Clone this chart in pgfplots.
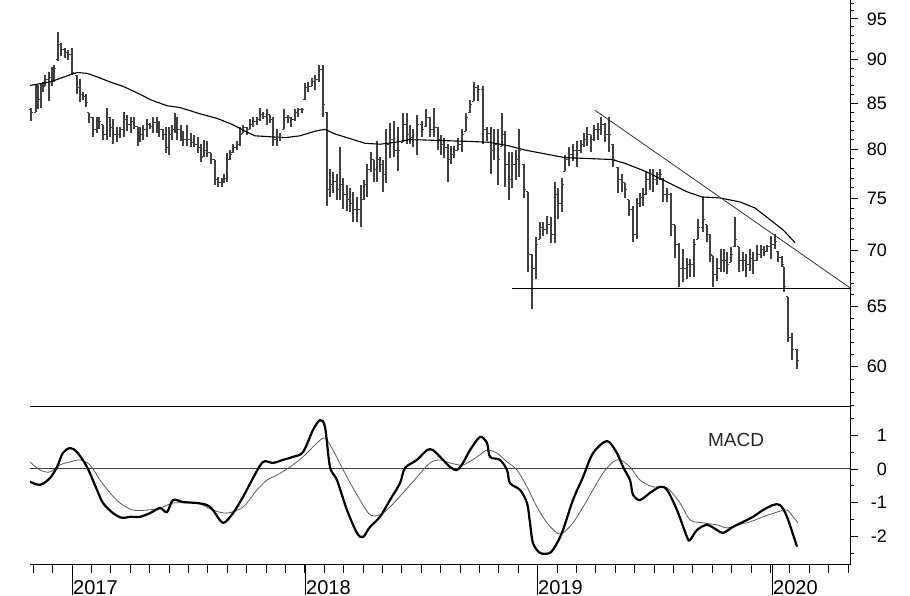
\documentclass[border=0pt]{standalone}
\usepackage{pgfplots}
\pgfplotsset{compat=1.18}
\usepackage{pgfplotstable}
\usepackage{fontspec}
\setmainfont{Liberation Sans}

% little open / close nubs of the bars
\pgfdeclareplotmark{cl}{\pgfpathmoveto{\pgfpointorigin}\pgfpathlineto{\pgfpoint{2.2pt}{0pt}}\pgfusepathqstroke}
\pgfdeclareplotmark{op}{\pgfpathmoveto{\pgfpointorigin}\pgfpathlineto{\pgfpoint{-2.2pt}{0pt}}\pgfusepathqstroke}

% x = bar position on the time axis (2017 = 72, 2018 = 305, 2019 = 537, 2020 = 772)
\pgfplotstableread{
x hi lo cl op
31 84.5 83.0 84.0 84.3
36 87.1 84.0 86.0 84.0
38 87.1 84.3 85.4 86.0
41 87.3 84.5 86.5 85.4
43 87.4 86.2 86.9 86.5
45 88.2 86.9 87.7 86.9
49 88.5 85.2 87.9 87.7
52 89.2 86.9 88.2 87.9
54 89.4 87.4 89.0 88.2
58 93.4 89.8 91.8 90.0
61 92.0 90.4 91.2 91.8
65 91.4 90.2 90.9 91.2
68 91.2 90.0 90.6 90.9
72 91.4 88.2 88.5 90.6
77 88.2 86.0 86.8 88.2
80 87.7 85.1 86.0 86.8
83 86.2 85.4 85.7 86.0
86 86.0 84.6 85.1 85.7
89 83.9 82.8 83.4 83.9
93 83.5 81.3 82.1 83.4
97 83.4 81.7 82.6 82.1
99 83.4 82.1 83.0 82.6
103 82.6 81.0 81.5 82.6
107 84.5 81.0 83.4 81.5
110 83.4 81.3 82.3 83.4
113 83.2 80.5 81.5 82.3
117 82.3 80.7 81.5 81.5
120 82.4 81.2 82.1 81.5
124 84.0 81.3 83.2 82.1
127 83.7 81.9 82.6 83.2
131 83.5 81.7 83.0 82.6
134 83.5 82.1 82.4 83.0
138 82.4 80.3 81.0 82.4
140 82.3 80.7 81.5 81.0
143 82.6 81.0 82.1 81.5
147 83.2 81.3 82.6 82.1
150 82.8 82.1 82.4 82.6
153 83.4 81.7 82.8 82.4
157 83.4 81.7 82.3 82.8
159 83.0 81.3 82.1 82.3
163 82.1 81.0 81.5 82.1
166 82.4 79.6 80.1 81.5
169 82.3 79.4 81.5 80.1
172 82.6 81.0 82.1 81.5
175 83.9 81.7 83.4 82.1
177 83.4 81.0 82.1 83.4
181 82.6 80.8 81.2 82.1
183 81.9 80.3 81.0 81.2
187 82.6 80.3 81.0 81.0
191 81.7 80.2 80.7 81.0
194 81.5 80.2 80.5 80.7
198 81.3 79.6 80.2 80.5
201 80.5 78.6 79.1 80.2
204 81.0 79.2 79.9 79.2
207 80.8 79.2 79.6 79.9
211 79.6 78.4 78.9 79.6
215 78.9 76.3 76.8 78.9
218 77.1 76.1 76.5 76.8
222 77.0 76.1 76.8 76.5
224 77.4 76.5 77.0 76.8
227 79.6 76.6 78.9 77.0
230 79.9 78.9 79.4 78.9
233 80.5 79.6 80.2 79.6
237 80.8 79.9 80.5 80.2
240 82.3 80.3 81.5 80.5
243 82.6 81.7 82.3 81.7
247 82.4 81.5 82.1 82.3
250 83.2 82.1 82.6 82.1
253 83.4 82.3 83.0 82.6
257 83.5 82.6 83.2 83.0
260 84.5 83.0 83.7 83.2
263 84.0 83.2 83.5 83.7
267 84.3 82.6 83.7 83.5
270 83.7 82.8 83.2 83.7
273 83.4 80.3 81.0 83.2
277 82.1 80.3 81.2 81.0
280 81.7 80.8 81.2 81.2
284 84.3 82.1 83.4 82.1
288 83.7 82.8 83.4 83.4
291 83.5 82.4 83.2 83.4
295 84.3 83.0 83.9 83.2
298 84.5 83.5 84.3 83.9
302 84.5 83.9 84.3 84.3
305 87.3 85.4 86.8 85.4
308 87.4 86.2 86.9 86.8
312 87.9 86.9 87.4 86.9
315 88.2 86.5 87.7 87.4
319 89.4 87.4 88.8 87.7
323 89.4 83.4 84.8 88.8
327 84.0 74.2 75.8 84.0
330 77.9 75.1 76.3 75.8
333 77.6 75.5 76.6 76.3
337 77.4 74.8 75.8 76.6
340 80.2 74.8 76.3 75.8
343 77.0 73.9 75.3 76.3
347 76.3 73.7 74.8 75.3
350 76.0 73.6 74.4 74.8
353 75.6 72.7 73.9 74.4
357 75.1 72.7 73.9 73.9
361 76.3 72.2 74.8 73.9
364 76.8 74.8 76.3 74.8
367 78.4 75.1 77.9 76.3
371 79.7 77.6 78.9 77.9
374 78.9 76.6 77.9 78.9
377 80.8 76.6 78.9 77.9
380 79.2 77.6 78.4 78.9
383 78.9 75.6 77.4 78.4
386 82.1 76.5 80.5 77.4
390 82.8 79.1 81.0 80.5
394 83.0 79.2 79.9 81.0
398 82.4 77.7 79.9 79.9
403 83.9 80.7 82.6 80.7
407 83.9 80.5 81.5 82.6
410 82.6 80.5 81.2 81.5
413 82.1 80.2 81.0 81.2
417 83.7 79.4 82.6 81.0
422 83.0 81.3 82.1 82.6
426 84.3 82.4 83.4 82.4
430 83.4 81.3 82.1 83.4
434 84.5 81.3 82.3 82.1
438 82.4 79.9 81.0 82.3
441 81.5 79.4 80.5 81.0
444 81.2 79.1 80.2 80.5
448 80.5 76.6 78.9 80.2
451 80.3 78.4 79.4 78.9
454 80.3 79.1 79.9 79.4
458 81.2 79.9 80.5 79.9
462 82.1 79.7 81.5 80.5
466 83.9 81.9 83.4 81.9
470 85.4 83.9 84.8 83.9
474 87.4 85.2 86.8 85.2
478 87.1 85.2 86.5 86.8
483 86.9 80.5 82.1 86.5
487 82.4 80.8 81.7 82.1
491 82.3 77.4 79.9 81.7
494 82.1 78.9 80.5 79.9
498 82.1 76.3 78.9 80.5
502 83.9 80.3 81.5 80.3
505 81.9 76.1 78.4 81.5
509 79.7 74.8 76.8 78.4
512 79.7 76.0 78.4 76.8
516 79.9 76.8 78.9 78.4
519 82.1 77.1 79.9 78.9
524 78.4 75.0 75.8 78.4
528 75.6 68.0 69.6 75.6
532 69.6 64.8 68.3 69.6
536 71.2 67.4 70.5 68.3
540 72.6 71.0 72.1 71.0
543 72.7 71.3 71.9 72.1
547 73.2 71.5 72.4 71.9
551 73.1 70.7 71.5 72.4
555 76.6 70.7 75.3 71.5
558 76.0 72.9 74.4 75.3
562 77.0 73.6 76.3 74.4
565 79.4 77.7 78.9 77.7
569 80.2 78.2 79.4 78.9
573 80.5 78.7 79.9 79.4
577 80.8 78.1 79.9 79.9
581 81.0 79.6 80.5 79.9
584 81.7 80.2 81.0 80.5
587 82.3 80.3 81.5 81.0
591 81.5 79.7 81.0 81.5
594 82.6 80.8 82.1 81.0
598 82.8 81.0 82.1 82.1
601 83.4 81.5 82.6 82.1
605 82.8 80.7 81.5 82.6
609 83.5 79.7 81.5 81.5
613 80.5 78.1 78.9 80.5
618 78.1 75.5 76.8 78.1
622 77.4 75.6 76.5 76.8
625 76.5 75.0 75.8 76.5
629 74.8 73.2 73.9 74.8
633 74.2 70.8 71.5 73.9
637 75.0 71.0 74.4 71.5
640 75.5 74.1 75.0 74.4
643 76.0 74.2 75.3 75.0
646 77.6 75.3 76.8 75.3
650 77.9 75.8 77.4 76.8
653 77.9 75.6 76.8 77.4
657 77.6 76.3 77.4 76.8
660 77.9 76.8 77.4 77.4
663 77.0 74.6 75.3 77.0
667 76.0 74.6 75.3 75.3
671 75.5 71.3 72.4 75.3
675 72.4 69.3 70.5 72.4
679 70.7 66.7 68.3 70.5
683 70.1 67.1 68.3 68.3
687 69.3 67.4 68.7 68.3
690 69.2 67.6 68.7 68.7
694 71.0 67.6 70.5 68.7
698 72.9 71.0 72.1 71.0
703 75.1 71.7 72.9 72.1
707 72.4 70.8 71.5 72.4
710 71.5 68.9 69.6 71.5
713 69.5 66.7 67.8 69.5
717 69.3 67.2 68.3 67.8
721 70.1 68.0 69.0 68.3
724 70.1 68.0 69.0 69.0
727 69.8 67.8 68.7 69.0
731 70.3 68.9 69.6 68.9
735 73.1 70.3 71.0 70.3
739 70.3 68.0 69.0 70.3
743 69.8 68.1 69.0 69.0
746 69.6 67.6 68.7 69.0
750 70.1 68.1 69.2 68.7
753 69.8 67.8 69.0 69.2
757 70.5 69.0 69.6 69.0
761 70.5 69.3 70.1 69.6
764 70.4 69.5 69.9 70.1
767 70.5 69.8 70.3 69.9
771 71.3 69.2 70.5 70.3
775 71.5 70.1 70.8 70.5
778 69.9 68.9 69.3 69.9
782 69.5 68.5 68.7 69.3
784 68.5 66.2 66.7 68.5
788 65.8 62.0 62.4 65.8
792 62.7 60.5 61.4 62.4
797 61.4 59.8 60.5 61.4
}\bars

\pgfplotstableread{
x ma
30 87.0
50 87.4
67 88.1
77 88.5
87 88.4
97 88.0
110 87.4
123 86.9
140 86.0
150 85.4
167 84.7
180 84.5
200 83.8
217 83.3
233 82.6
245 81.9
255 81.4
270 81.3
285 81.2
300 81.4
315 81.9
325 82.1
335 81.6
350 81.1
365 80.6
380 80.5
395 80.7
410 81.0
440 80.9
470 80.8
490 80.7
510 80.3
525 79.9
545 79.5
565 79.1
590 79.0
612 78.9
625 78.5
645 77.7
667 76.6
687 75.6
702 75.1
720 75.0
740 74.6
755 74.0
767 73.1
783 71.9
795 70.7
}\mavg

\pgfplotstableread{
x m
30 -0.38
40 -0.47
50 -0.27
57 0.06
63 0.48
70 0.62
77 0.50
87 0.06
97 -0.62
103 -1.01
113 -1.31
122 -1.45
130 -1.42
140 -1.42
150 -1.31
160 -1.16
167 -1.28
173 -0.92
183 -0.98
197 -1.01
207 -1.07
213 -1.22
223 -1.60
233 -1.31
243 -0.83
253 -0.27
263 0.21
273 0.18
283 0.27
293 0.36
303 0.50
313 1.16
320 1.45
325 1.25
330 0.06
337 -0.33
347 -1.22
357 -1.90
363 -2.02
370 -1.72
380 -1.42
390 -0.92
400 -0.42
405 0.03
417 0.27
427 0.56
433 0.56
443 0.27
450 0.06
457 -0.03
463 0.18
470 0.56
480 0.95
487 0.77
490 0.36
500 0.27
507 -0.03
510 -0.42
520 -0.62
527 -1.01
530 -1.60
533 -2.20
540 -2.49
550 -2.49
557 -2.20
563 -1.81
573 -0.92
583 -0.24
593 0.47
607 0.83
617 0.47
623 0.06
630 -0.33
633 -0.77
640 -0.92
650 -0.71
660 -0.53
667 -0.62
677 -1.22
687 -2.02
690 -2.11
697 -1.81
707 -1.66
717 -1.81
723 -1.90
733 -1.72
743 -1.57
753 -1.42
763 -1.22
773 -1.07
780 -1.07
787 -1.42
797 -2.31
}\macd

\pgfplotstableread{
x s
30 0.21
40 -0.03
50 -0.09
60 0.12
70 0.21
80 0.27
90 0.12
100 -0.33
110 -0.71
120 -1.01
133 -1.22
147 -1.22
160 -1.16
173 -1.01
187 -1.01
200 -1.04
213 -1.22
227 -1.31
243 -1.13
257 -0.62
267 -0.33
277 -0.18
290 0.06
303 0.36
317 0.77
325 0.92
333 0.56
347 -0.24
360 -0.92
370 -1.36
380 -1.36
390 -1.13
403 -0.71
417 -0.24
430 0.18
440 0.27
450 0.18
463 0.12
477 0.36
487 0.56
497 0.47
507 0.21
517 -0.03
527 -0.53
537 -1.13
547 -1.60
557 -1.90
563 -1.90
573 -1.60
583 -1.13
593 -0.62
603 -0.12
613 0.21
620 0.27
630 0.06
640 -0.33
653 -0.53
667 -0.56
680 -1.01
690 -1.51
703 -1.60
717 -1.66
727 -1.75
737 -1.66
750 -1.57
763 -1.42
777 -1.28
787 -1.22
793 -1.42
798 -1.60
}\signal

\begin{document}
\begin{tikzpicture}[x=1pt,y=1pt]
\pgfplotsset{
  every axis/.append style={
    scale only axis, width=820pt, xmin=30, xmax=850,
    axis line style={black, line width=1pt, -},
    tick style={black, line width=0.8pt},
    tick align=outside,
    major tick length=8pt, minor tick length=4pt,
    yticklabel style={font=\fontsize{18pt}{18pt}\selectfont, anchor=east, inner sep=0pt, xshift=29pt},
  }
}
% price panel
\begin{axis}[
    at={(30pt,189pt)}, anchor=south west, height=407pt,
    ymode=log, ymin=56.9, ymax=97.4,
    axis x line=none, axis y line*=right,
    ytick={60,65,70,75,80,85,90,95},
    yticklabels={60,65,70,75,80,85,90,95},
    minor ytick={57,58,...,97},
  ]
  \addplot[only marks, mark=cl, mark options={black!75, line width=1pt},
    error bars/.cd, y dir=both, y explicit, error mark=none,
    error bar style={black!75, line width=1.2pt}]
    table[x=x, y=cl, y error plus expr=\thisrow{hi}-\thisrow{cl},
          y error minus expr=\thisrow{cl}-\thisrow{lo}] {\bars};
  \addplot[only marks, mark=op, mark options={black!75, line width=1pt}]
    table[x=x, y=op] {\bars};
  \addplot[black, line width=1.1pt] table[x=x, y=ma] {\mavg};
  \addplot[black!80, line width=0.8pt] coordinates {(595,84.2) (850,66.6)};
  \addplot[black, line width=1.2pt] coordinates {(512,66.55) (850,66.55)};
\end{axis}

% MACD panel
\begin{axis}[
    at={(30pt,31pt)}, anchor=south west, height=158pt,
    ymin=-2.85, ymax=1.84,
    axis x line*=bottom, axis y line*=right,
    ytick={-2,-1,0,1}, yticklabels={-2,-1,0,1},
    minor ytick={-2.5,-1.5,-0.5,0.5,1.5},
    xtick={33.2,52.6,...,850}, xticklabels={},
    extra x ticks={72,305,537,772},
    extra x tick labels={2017,2018,2019,2020},
    extra x tick style={major tick length=30pt,
      xticklabel style={font=\fontsize{20pt}{20pt}\selectfont, anchor=north west, inner sep=0pt, xshift=1pt, yshift=15pt}},
  ]
  \draw[black, line width=1pt] (rel axis cs:0,1) -- (rel axis cs:1,1);
  \draw[black!75, line width=1pt] (axis cs:30,0) -- (axis cs:850,0);
  \addplot[black!65, line width=0.8pt, smooth] table[x=x, y=s] {\signal};
  \addplot[black, line width=2.2pt, smooth] table[x=x, y=m] {\macd};
  \node[font=\fontsize{19pt}{19pt}\selectfont, text=black!85] at (axis cs:736,0.86) {MACD};
\end{axis}
\pgfresetboundingbox
\path[use as bounding box] (0,0) rectangle (910,596);
\end{tikzpicture}
\end{document}
